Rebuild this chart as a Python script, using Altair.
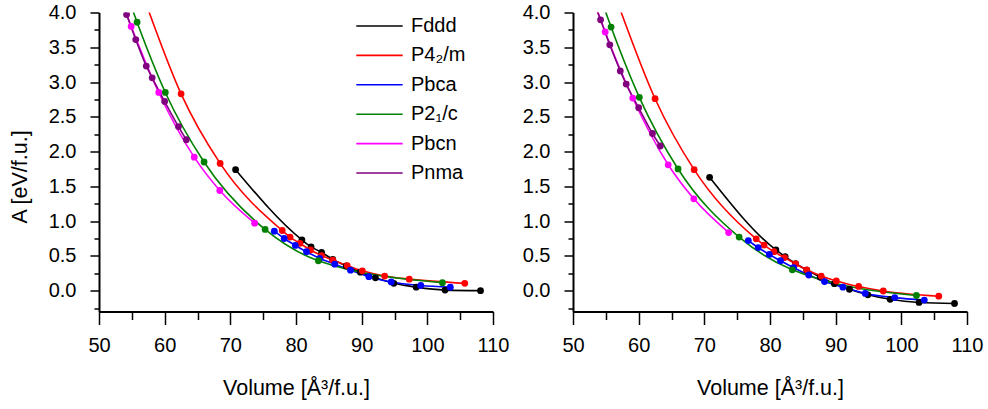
import altair as alt
import pandas as pd

FONT = "Liberation Sans"

series_names = ["Fddd", "P4₂/m", "Pbca", "P2₁/c", "Pbcn", "Pnma"]
series_colors = ["#000000", "#ff0000", "#0000ff", "#008000", "#ff00ff", "#800080"]

# ---- data points (volume in Å^3/f.u., A in eV/f.u.) ----
fddd_vol = [70.8, 80.9, 82.3, 83.9, 85.6, 87.65, 89.8, 92.1, 94.9, 98.3, 102.7, 108.1]
fddd_left = [1.74, 0.73, 0.63, 0.55, 0.45, 0.355, 0.265, 0.185, 0.105, 0.05, 0.008, 0.0]
fddd_right = [1.63, 0.585, 0.49, 0.39, 0.295, 0.195, 0.10, 0.02, -0.06, -0.125, -0.17, -0.185]

p42m_vol = [62.5, 68.45, 77.9, 79.1, 80.6, 82.2, 83.9, 85.6, 87.8, 90.1, 93.5, 97.25, 105.7]
p42m_left = [2.83, 1.83, 0.865, 0.77, 0.68, 0.585, 0.505, 0.44, 0.36, 0.285, 0.21, 0.165, 0.105]
p42m_right = [2.76, 1.74, 0.745, 0.655, 0.56, 0.475, 0.385, 0.30, 0.21, 0.14, 0.06, -0.005, -0.08]

pbca_vol = [76.7, 78.2, 79.9, 81.6, 83.6, 85.9, 88.3, 91.1, 94.5, 99.0, 103.5]
pbca_left = [0.855, 0.75, 0.65, 0.56, 0.465, 0.38, 0.295, 0.20, 0.125, 0.075, 0.05]
pbca_right = [0.72, 0.62, 0.52, 0.43, 0.33, 0.225, 0.13, 0.05, -0.04, -0.10, -0.135]

p21c_vol = [55.8, 60.1, 66.0, 75.3, 83.4, 102.3]
p21c_left = [3.86, 2.85, 1.85, 0.88, 0.43, 0.115]
p21c_right = [3.79, 2.78, 1.75, 0.77, 0.30, -0.07]

pbcn_vol = [54.9, 59.1, 64.5, 68.4, 73.7]
pbcn_left = [3.80, 2.85, 1.92, 1.44, 0.97]
pbcn_right = [3.72, 2.77, 1.81, 1.32, 0.835]

pnma_vol = [54.2, 55.6, 57.2, 58.1, 60.0, 62.1, 63.3]
pnma_left = [3.97, 3.61, 3.23, 3.06, 2.72, 2.36, 2.17]
pnma_right = [3.895, 3.535, 3.16, 2.97, 2.63, 2.26, 2.08]

# ---- curve continuation above the top of the axes (line only, estimated) ----
p42m_ext_vol = [57.0]
p42m_ext_left = [4.17]
p42m_ext_right = [4.09]

p21c_ext_vol = [54.5]
p21c_ext_left = [4.20]
p21c_ext_right = [4.13]

pbcn_ext_vol = [53.5]
pbcn_ext_left = [4.15]
pbcn_ext_right = [4.08]

pnma_ext_vol = [53.6]
pnma_ext_left = [4.12]
pnma_ext_right = [4.04]

series_data = [
    ("Fddd", fddd_vol, fddd_left, fddd_right, [], [], []),
    ("P4₂/m", p42m_vol, p42m_left, p42m_right, p42m_ext_vol, p42m_ext_left, p42m_ext_right),
    ("Pbca", pbca_vol, pbca_left, pbca_right, [], [], []),
    ("P2₁/c", p21c_vol, p21c_left, p21c_right, p21c_ext_vol, p21c_ext_left, p21c_ext_right),
    ("Pbcn", pbcn_vol, pbcn_left, pbcn_right, pbcn_ext_vol, pbcn_ext_left, pbcn_ext_right),
    ("Pnma", pnma_vol, pnma_left, pnma_right, pnma_ext_vol, pnma_ext_left, pnma_ext_right),
]

rows = []
for i, (name, v, al, ar, ev, el, er) in enumerate(series_data):
    for panel, a, e in (("left", al, el), ("right", ar, er)):
        for vv, aa in zip(ev, e):
            rows.append({"series": name, "order": i, "vol": vv, "A": aa, "panel": panel, "kind": "ext"})
        for vv, aa in zip(v, a):
            rows.append({"series": name, "order": i, "vol": vv, "A": aa, "panel": panel, "kind": "data"})
df = pd.DataFrame(rows)

x_ticks = list(range(50, 111, 5))
y_ticks = [round(-0.25 + 0.25 * k, 2) for k in range(18)]

x_major_test = "datum.value % 10 === 0"
y_major_test = "abs(datum.value * 2 - round(datum.value * 2)) < 0.001"


def x_axis():
    return alt.Axis(
        values=x_ticks,
        title="Volume [Å³/f.u.]",
        labelExpr=f"{x_major_test} ? format(datum.value, 'd') : ''",
        tickSize={"condition": {"test": x_major_test, "value": 13}, "value": 8},
        labelPadding=11,
        labelFlush=False,
        labelOverlap=False,
        grid=False,
        titleY=77,
        titleBaseline="middle",
    )


def y_axis(with_title):
    kw = dict(
        values=y_ticks,
        labelExpr=f"{y_major_test} ? format(datum.value, '.1f') : ''",
        tickSize={"condition": {"test": y_major_test, "value": 9}, "value": 5},
        labelPadding=14,
        labelOverlap=False,
        grid=False,
    )
    if with_title:
        kw.update(title="A [eV/f.u.]", titleX=-79, titleY=164, titleBaseline="middle")
    else:
        kw.update(title=None)
    return alt.Axis(**kw)


def panel(name, first):
    base = alt.Chart(df).transform_filter(alt.datum.panel == name)
    x = alt.X("vol:Q", scale=alt.Scale(domain=[50, 110], nice=False, zero=False), axis=x_axis())
    y = alt.Y("A:Q", scale=alt.Scale(domain=[-0.3, 4.0], nice=False, zero=False), axis=y_axis(first))
    if first:
        legend = alt.Legend(
            orient="none", legendX=265, legendY=-2, title=None,
            symbolType="M-1.6,0L1.6,0", symbolSize=841, symbolStrokeWidth=1.6,
            labelFontSize=20, labelFont=FONT, labelColor="#000000", labelOffset=16,
            rowPadding=3.4, padding=0,
        )
    else:
        legend = None
    lines = base.mark_line(clip=True, strokeWidth=1.6, interpolate="monotone").encode(
        x=x, y=y,
        color=alt.Color("series:N", scale=alt.Scale(domain=series_names, range=series_colors),
                        sort=series_names, legend=legend),
        detail="series:N",
    )
    pts = base.transform_filter(alt.datum.kind == "data").mark_circle(clip=True, size=46, opacity=1).encode(
        x=x, y=y,
        fill=alt.Fill("series:N", scale=alt.Scale(domain=series_names, range=series_colors), legend=None),
        order=alt.Order("order:Q"),
    )
    return alt.layer(lines, pts).properties(width=394, height=299)


chart = alt.hconcat(panel("left", True), panel("right", False), spacing=80, bounds="flush").resolve_scale(
    color="independent", fill="independent"
).properties(
    padding={"left": 9, "top": 2.5, "right": 5, "bottom": 5},
    background="white",
).configure_view(stroke=None).configure_axis(
    labelFont=FONT, titleFont=FONT, labelFontSize=20, titleFontSize=21.5,
    titleFontWeight="normal", labelColor="#000000", titleColor="#000000",
    domainColor="#000000", tickColor="#000000", domainWidth=2, tickWidth=1.5,
)

chart.save("out.html", embed_options={"renderer": "svg", "actions": False})
